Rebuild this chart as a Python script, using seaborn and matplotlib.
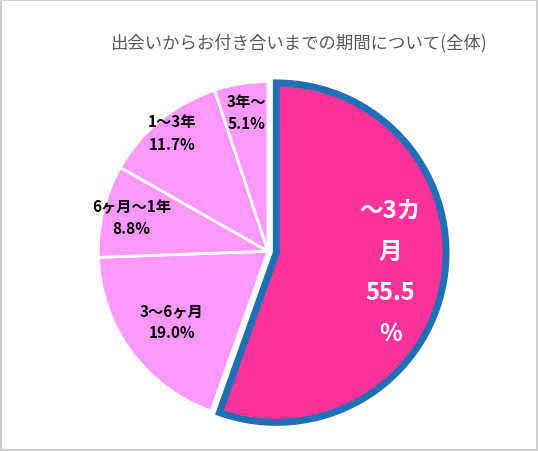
import numpy as np
import matplotlib
matplotlib.use("Agg")
import matplotlib.pyplot as plt
import seaborn as sns

sns.set_theme(style="white")
plt.rcParams['font.family'] = ['Noto Sans CJK JP', 'DejaVu Sans']

categories = ["～3カ\n月\n55.5\n%", "3～6ヶ月\n19.0%", "6ヶ月～1年\n8.8%", "1～3年\n11.7%", "3年～\n5.1%"]
values = [55.5, 19.0, 8.8, 11.7, 5.1]
title = "出会いからお付き合いまでの期間について(全体)"

fig = plt.figure(figsize=(5.38, 4.52), dpi=100)
fig.patch.set_edgecolor("#cccccc")
fig.patch.set_linewidth(1.5)
ax = fig.add_axes([0.1636, 0.044, 0.669, 0.796])
colors = ["#FF3399"] + ["#FF99FF"] * 4
wedges, _ = ax.pie(values, startangle=90, counterclock=False, colors=colors,
                   explode=[0.05, 0, 0, 0, 0],
                   wedgeprops=dict(edgecolor="white", linewidth=2))
wedges[0].set_edgecolor("#1F6FB5")
wedges[0].set_linewidth(5)
ax.set_xlim(-1.06, 1.06); ax.set_ylim(-1.06, 1.06)
ax.set_aspect("equal")

dists = [0.68, 0.7, 0.83, 0.9, 0.83]
start = 90
for i, v in enumerate(values):
    mid = np.deg2rad(start - v * 3.6 / 2)
    start -= v * 3.6
    x, y = dists[i] * np.cos(mid), dists[i] * np.sin(mid)
    if i == 0:
        ax.text(x + 0.05, y, categories[i], ha="center", va="center", color="white",
                fontsize=17, fontweight="bold", linespacing=1.9)
    else:
        ax.text(x, y, categories[i], ha="center", va="center", color="black",
                fontsize=11, fontweight="bold", linespacing=1.5)

fig.text(0.555, 0.905, title, ha="center", va="center", fontsize=12.5, color="#595959")
fig.savefig("out.png", dpi=100, edgecolor=fig.get_edgecolor())
